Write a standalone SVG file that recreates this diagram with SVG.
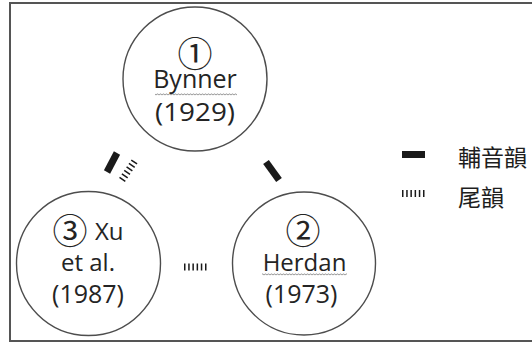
<svg xmlns="http://www.w3.org/2000/svg" width="532" height="343" viewBox="0 0 532 343">
<style>
.node{fill:none;stroke:#4d4d4d;stroke-width:1.4}
.t{font-family:"Open Sans","Noto Sans",sans-serif;font-size:24px;fill:#242424;text-anchor:middle}
.num{font-family:"Noto Sans CJK JP","Noto Sans CJK SC",sans-serif;font-size:35px;fill:#242424;text-anchor:middle}
.cjk{font-family:"Noto Sans CJK TC","Noto Sans CJK SC",serif;font-size:23px;fill:#1e1e1e}
.solid{stroke:#1a1a1a;stroke-width:7;stroke-linecap:butt}
.hatch{stroke:#1a1a1a;stroke-width:7;stroke-dasharray:1.5 2.7;stroke-linecap:butt}
</style>
<defs>
<pattern id="squig" patternUnits="userSpaceOnUse" width="3" height="3">
<path d="M0 2.3 L1.5 0.7 L3 2.3" fill="none" stroke="#6a6a6a" stroke-width="0.8"/>
</pattern>
</defs>
<rect x="10" y="3" width="530" height="338" fill="#fff" stroke="#555" stroke-width="2"/>
<g id="node1">
<circle class="node" cx="195" cy="79" r="72"/>
<text class="num" x="195" y="66.5">①</text>
<text class="t" x="195" y="88" style="font-size:25px">Bynner</text>
<rect x="155" y="93" width="82" height="3" fill="url(#squig)"/>
<text class="t" x="195" y="121" style="font-size:26px" textLength="80" lengthAdjust="spacingAndGlyphs">(1929)</text>
</g>
<g id="node2">
<circle class="node" cx="304" cy="263.5" r="71.5"/>
<text class="num" x="303" y="244">②</text>
<text class="t" x="304.5" y="271">Herdan</text>
<rect x="262" y="273" width="85" height="3" fill="url(#squig)"/>
<text class="t" x="301.5" y="303" style="font-size:25px">(1973)</text>
</g>
<g id="node3">
<circle class="node" cx="88.5" cy="263.5" r="72"/>
<text class="num" x="70" y="244">③</text>
<text class="t" x="95" y="240" style="text-anchor:start">Xu</text>
<text class="t" x="88" y="271">et al.</text>
<text class="t" x="88" y="303" style="font-size:25px">(1987)</text>
</g>
<g id="connectors">
<line class="solid" x1="117" y1="153" x2="107" y2="172"/>
<line class="hatch" x1="122" y1="180" x2="135.5" y2="160"/>
<line class="solid" x1="266" y1="162" x2="279" y2="180"/>
<line class="hatch" x1="184" y1="267" x2="207" y2="267"/>
</g>
<g id="legend">
<rect x="402" y="151" width="23" height="7" fill="#1a1a1a"/>
<text class="cjk" x="458" y="165.5">輔音韻</text>
<line class="hatch" x1="402" y1="193.5" x2="425" y2="193.5"/>
<text class="cjk" x="458" y="205.5">尾韻</text>
</g>
</svg>
